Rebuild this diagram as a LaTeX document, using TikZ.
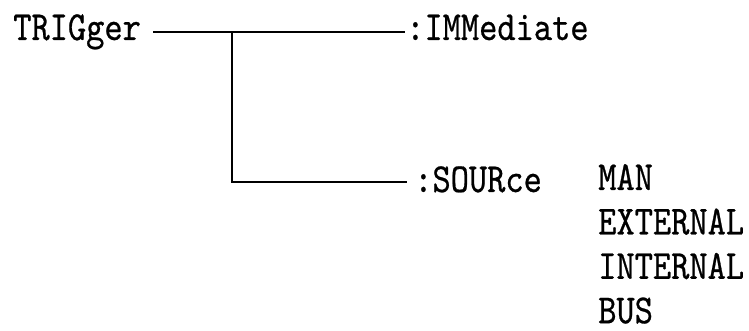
\documentclass[tikz,border=0pt]{standalone}
\usepackage{fontspec}
\usepackage{tikz}
\usetikzlibrary{positioning,calc}
\newfontfamily\cmdfont{lmmono10-regular.otf}[FakeStretch=0.84, FakeBold=0.6]
\tikzset{
  cmd/.style={font=\cmdfont\fontsize{31}{34}\selectfont, inner sep=0pt, anchor=base west},
  opt/.style={cmd},
  wire/.style={line width=2pt, line cap=rect},
}
\begin{document}
\begin{tikzpicture}[x=0.75pt, y=-0.75pt]
    \useasboundingbox (0,0) rectangle (749,331);
    % command tree
    \node[cmd] (trig) at (13,40) {TRIGger};
    \node[cmd] (imm) at (406,40) {:IMMediate};
    \node[cmd] (src) at (414,192) {:SOURce};
    \coordinate (split) at (232,32);
    \coordinate (corner) at (232,182);
    \draw[wire] ([xshift=10pt]trig.east |- split) -- ([xshift=-2pt]imm.west |- split);
    \draw[wire] (split) -- (corner) -- ([xshift=-6pt]src.west |- corner);
    % source options
    \foreach \n/\t [count=\i from 0] in {man/MAN, ext/EXTERNAL, int/INTERNAL, bus/BUS}
      \node[opt] (\n) at (598,190+44.4*\i) {\t};
  \end{tikzpicture}
\end{document}
